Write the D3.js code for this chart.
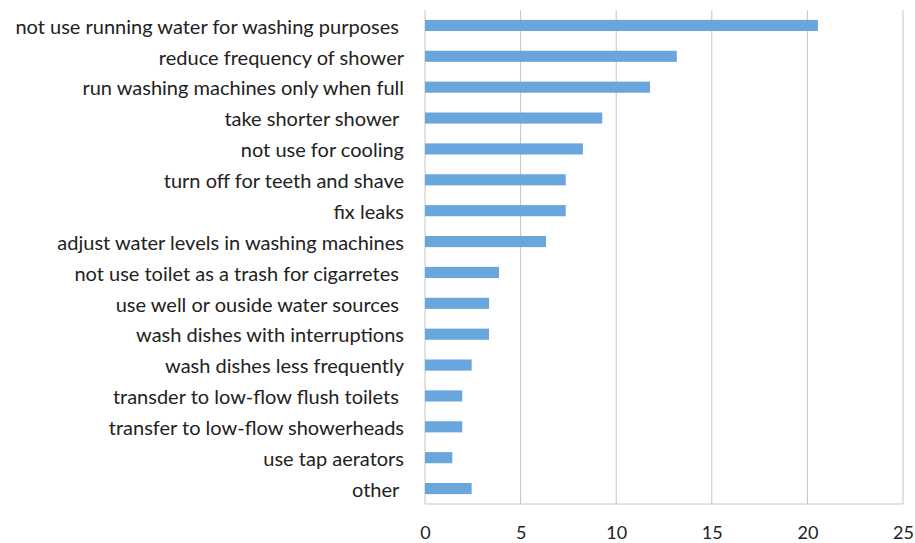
<!DOCTYPE html>
<html><head><meta charset="utf-8">
<script src="https://cdn.jsdelivr.net/npm/d3@7"></script>
<style>
body{margin:0;background:#fff;}
svg text{white-space:pre;}
</style></head>
<body><svg id="c" width="915" height="543"></svg>
<script>
const categories = [
  "not use running water for washing purposes ",
  "reduce frequency of shower",
  "run washing machines only when full",
  "take shorter shower ",
  "not use for cooling",
  "turn off for teeth and shave",
  "fix leaks",
  "adjust water levels in washing machines",
  "not use toilet as a trash for cigarretes ",
  "use well or ouside water sources ",
  "wash dishes with interruptions",
  "wash dishes less frequently",
  "transder to low-flow flush toilets ",
  "transfer to low-flow showerheads",
  "use tap aerators",
  "other "
];
const values = [20.55, 13.17, 11.77, 9.27, 8.26, 7.36, 7.36, 6.33, 3.87, 3.35, 3.35, 2.44, 1.95, 1.95, 1.43, 2.44];
const tickValues = [0, 5, 10, 15, 20, 25];

(function () {
const svg = d3.select("#c");
const pL = 425, pR = 903, pT = 10, pB = 504;
const x = d3.scaleLinear().domain([0, 25]).range([pL, pR]);
const y = d3.scaleBand().domain(categories).range([pT, pB]).paddingInner(0.64).paddingOuter(0.32);

svg.append("g").selectAll("line").data(tickValues).join("line")
  .attr("x1", d => x(d)).attr("x2", d => x(d))
  .attr("y1", pT).attr("y2", pB)
  .attr("stroke", "#c4c4c4").attr("stroke-width", 1);
svg.append("line").attr("x1", pL).attr("x2", pR).attr("y1", pB).attr("y2", pB)
  .attr("stroke", "#c4c4c4");

svg.append("g").selectAll("rect").data(values).join("rect")
  .attr("x", x(0)).attr("y", (d, i) => y(categories[i]))
  .attr("width", d => x(d) - x(0)).attr("height", y.bandwidth())
  .attr("fill", "#68a6dd");

svg.append("g").selectAll("text").data(categories).join("text")
  .attr("x", 404).attr("y", d => y(d) + y.bandwidth() / 2 + 1)
  .attr("dy", "0.36em").attr("text-anchor", "end")
  .attr("font-family", "Lato, 'Open Sans', sans-serif").attr("font-size", 20)
  .attr("fill", "#222").text(d => d);

const xAxis = d3.axisBottom(x).tickValues(tickValues).tickSize(0).tickPadding(0);
const gx = svg.append("g").attr("transform", `translate(0,${pB + 22})`).call(xAxis);
gx.select(".domain").remove();
gx.selectAll("text").attr("font-family", "Lato, 'Open Sans', sans-serif").attr("font-size", 18).attr("fill", "#222");
})();
</script></body></html>
